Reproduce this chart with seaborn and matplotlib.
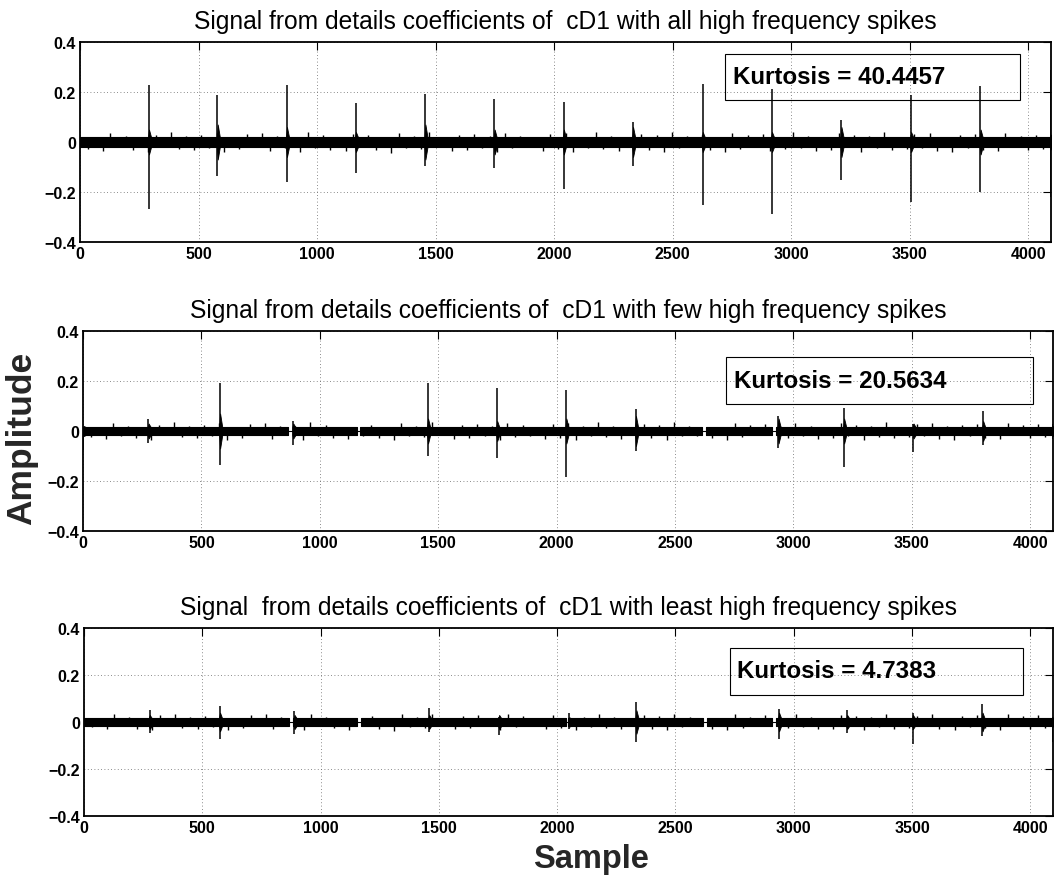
import numpy as np
import matplotlib
matplotlib.use("Agg")
import matplotlib.pyplot as plt
from matplotlib.patches import Rectangle
import seaborn as sns

# ---------------- data ----------------
titles = [
    "Signal from details coefficients of  cD1 with all high frequency spikes",
    "Signal from details coefficients of  cD1 with few high frequency spikes",
    "Signal  from details coefficients of  cD1 with least high frequency spikes",
]
kurtosis_labels = ["Kurtosis = 40.4457", "Kurtosis = 20.5634", "Kurtosis = 4.7383"]

# dense noise: half-thickness of the solid core of the trace
core_amp = [0.019, 0.016, 0.016]

# noise excursions (thousandths): upward ones read every 64 samples from 0,
# downward ones read every 64 samples from 32
env_x = list(range(0, 4097, 64))
p1_hi = [32,20,38,25,19,30,41,23,28,35, 19,31,37,24,22,42,27,18,33,30, 21,36,25,40,19,29,32,23,38,26,
         18,31,35,22,40,25,20,34,28,41, 23,30,19,37,27,32,21,39,25,18, 35,29,24,42,20,31,36,22,27,33,
         19,38,26,30,24]
p1_lo = [26,36,21,31,41,19,27,33,23,38, 29,18,35,24,40,22,30,37,20,32, 42,24,28,19,36,31,22,39,25,20,
         34,29,41,23,27,36,18,31,38,24, 21,33,40,26,19,37,29,23,35,31, 20,39,25,32,28,22,35,41,24,30,
         37,19,32,27,34]
p2_hi = [28,18,34,22,17,26,36,20,25,31, 17,28,33,21,19,37,24,16,29,26, 18,32,22,35,17,25,28,20,34,23,
         16,27,31,19,35,22,18,30,25,36, 20,26,17,33,24,28,19,34,22,16, 31,25,21,37,18,27,32,19,24,29,
         17,34,23,27,21]
p2_lo = [23,32,19,27,36,17,24,29,20,34, 26,16,31,21,35,19,27,33,18,28, 37,21,25,17,32,27,19,34,22,18,
         30,26,36,20,24,32,16,28,34,21, 19,29,35,23,17,33,26,20,31,27, 18,35,22,28,25,19,31,36,21,26,
         33,17,28,24,30]
p3_hi = [27,19,33,23,17,28,35,20,24,31, 18,29,32,21,19,36,23,17,30,27, 19,33,21,35,17,26,29,19,32,24,
         17,28,30,20,36,22,18,29,24,35, 20,27,17,32,23,29,19,33,21,17, 31,26,21,36,18,27,33,19,25,30,
         17,32,24,28,21]
p3_lo = [23,31,19,28,35,17,25,30,20,33, 26,17,30,22,36,19,25,32,18,29, 37,21,25,17,30,27,19,33,23,18,
         29,25,36,20,25,31,16,28,33,22, 19,30,35,24,17,32,26,20,29,28, 18,34,23,29,25,19,30,36,21,27,
         32,17,28,25,30]

# flat (near-zero) stretches of the signal: (start, end) samples
p1_gaps = []
p2_gaps = [(865, 885), (1155, 1170), (2615, 2632), (2908, 2925)]
p3_gaps = [(865, 885), (1155, 1170), (2037, 2046), (2615, 2632), (2908, 2925)]

# spikes: sample position, max, min, ringing amplitude
p1_pos = [290, 580, 872, 1163, 1456, 1748, 2040, 2332, 2626, 2918, 3211, 3505, 3798, 4094]
p1_top = [0.229, 0.19, 0.227, 0.156, 0.192, 0.174, 0.16, 0.08, 0.234, 0.211, 0.09, 0.19, 0.224, 0.29]
p1_bot = [-0.269, -0.135, -0.161, -0.124, -0.097, -0.105, -0.187, -0.096, -0.253, -0.287, -0.152, -0.239, -0.2, -0.22]
p1_ring = [0.05, 0.07, 0.06, 0.04, 0.07, 0.05, 0.05, 0.06, 0.04, 0.04, 0.06, 0.04, 0.05, 0.03]

p2_pos = [2, 276, 578, 887, 1456, 1748, 2040, 2334, 2936, 3213, 3506, 3800, 4094]
p2_top = [0.0, 0.047, 0.192, 0.04, 0.193, 0.173, 0.163, 0.089, 0.059, 0.093, 0.03, 0.08, 0.03]
p2_bot = [-0.077, -0.047, -0.137, -0.055, -0.1, -0.108, -0.184, -0.08, -0.068, -0.144, -0.084, -0.055, -0.03]
p2_ring = [0.02, 0.03, 0.07, 0.03, 0.05, 0.04, 0.05, 0.06, 0.05, 0.05, 0.03, 0.04, 0.02]

p3_pos = [277, 574, 889, 1458, 1754, 2050, 2334, 2937, 3225, 3503, 3797, 4094]
p3_top = [0.049, 0.069, 0.045, 0.059, 0.02, 0.04, 0.084, 0.055, 0.05, 0.04, 0.077, 0.02]
p3_bot = [-0.046, -0.074, -0.05, -0.042, -0.057, -0.03, -0.087, -0.072, -0.046, -0.093, -0.061, -0.087]
p3_ring = [0.03, 0.04, 0.03, 0.03, 0.03, 0.02, 0.05, 0.04, 0.03, 0.03, 0.04, 0.02]

x_ticks = [0, 500, 1000, 1500, 2000, 2500, 3000, 3500, 4000]
y_ticks = [-0.4, -0.2, 0, 0.2, 0.4]
y_tick_labels = ["\u22120.4", "\u22120.2", "0", "0.2", "0.4"]
n_samples = 4096

panels = [
    dict(hi=p1_hi, lo=p1_lo, gaps=p1_gaps, pos=p1_pos, top=p1_top, bot=p1_bot, ring=p1_ring),
    dict(hi=p2_hi, lo=p2_lo, gaps=p2_gaps, pos=p2_pos, top=p2_top, bot=p2_bot, ring=p2_ring),
    dict(hi=p3_hi, lo=p3_lo, gaps=p3_gaps, pos=p3_pos, top=p3_top, bot=p3_bot, ring=p3_ring),
]

# ---------------- layout / style ----------------
W, H = 1055, 879
axes_px = [(80, 43, 1051, 243), (83, 332, 1053, 532), (84, 629, 1053, 817)]
box_px = [(725, 55, 1020, 101), (726, 358, 1033, 405), (730, 649, 1023, 696)]
text_px = [(733, 78), (734, 381), (737, 672)]

sns.set_theme(style="white")
plt.rcParams["font.family"] = ["Liberation Sans", "DejaVu Sans"]
plt.rcParams["axes.unicode_minus"] = True

fig = plt.figure(figsize=(W / 100, H / 100), dpi=100)
fig.patch.set_facecolor("white")


def in_segments(xv, bounds):
    ok = np.zeros(len(xv), dtype=bool)
    for a, bnd in zip(bounds[0::2], bounds[1::2]):
        ok |= (xv > a + 3) & (xv < bnd - 3)
    return ok


for i, (pan, (l, t, r, b)) in enumerate(zip(panels, axes_px)):
    ax = fig.add_axes([l / W, 1 - b / H, (r - l) / W, (b - t) / H])
    ax.set_facecolor("white")
    ax.set_xlim(0, n_samples)
    ax.set_ylim(-0.4, 0.4)

    n = min(len(env_x), len(pan["hi"]), len(pan["lo"]))
    x_up = np.array(env_x[:n], dtype=float)
    x_dn = x_up + 32
    hi = np.array(pan["hi"][:n]) / 1000.0
    lo = -np.array(pan["lo"][:n]) / 1000.0
    c = core_amp[i]

    bounds = [0] + [v for g in pan["gaps"] for v in g] + [n_samples]
    for a, bnd in zip(bounds[0::2], bounds[1::2]):
        ax.fill_between([a, bnd], [-c, -c], [c, c], color="black", lw=0.8, zorder=3)
    mu = in_segments(x_up, bounds)
    md = in_segments(x_dn, bounds)
    ax.vlines(x_up[mu], 0, hi[mu], color="black", lw=1.0, zorder=3)
    ax.vlines(x_dn[md], lo[md], 0, color="black", lw=1.0, zorder=3)
    for g0, g1 in pan["gaps"]:
        sns.lineplot(x=[g0, g1], y=[0, 0], ax=ax, color="black", lw=0.8, zorder=3)

    # ringing around spikes
    for p, rg in zip(pan["pos"], pan["ring"]):
        ax.fill_between([p - 3, p + 1, p + 10], [-c, -rg, -c], [c, rg, c],
                        color="black", lw=0.6, zorder=3)
    # spikes
    ax.vlines(pan["pos"], pan["bot"], pan["top"], color="black", lw=1.1, zorder=4)

    # axes cosmetics (MATLAB-like)
    ax.set_xticks(x_ticks)
    ax.set_xticklabels([str(v) for v in x_ticks], fontweight="bold", fontsize=11.5)
    ax.set_yticks(y_ticks)
    ax.set_yticklabels(y_tick_labels, fontweight="bold", fontsize=11.5)
    ax.tick_params(direction="in", length=6, width=0.8, top=True, right=True,
                   pad=3, colors="black")
    ax.grid(True, linestyle=(0, (1, 3)), color="0.4", lw=0.6)
    for s in ax.spines.values():
        s.set_visible(True)
        s.set_color("black")
        s.set_linewidth(1.3)
    ax.set_title(titles[i], fontsize=17.7, pad=10, color="black")

    # kurtosis box
    bx0, by0, bx1, by1 = box_px[i]
    ax.add_patch(Rectangle(((bx0 - l) / (r - l), (b - by1) / (b - t)),
                           (bx1 - bx0) / (r - l), (by1 - by0) / (b - t),
                           transform=ax.transAxes, fill=False, edgecolor="black",
                           lw=0.8, zorder=6))
    tx, ty = text_px[i]
    ax.text((tx - l) / (r - l), (b - ty) / (b - t), kurtosis_labels[i],
            transform=ax.transAxes, fontsize=17.4, fontweight="bold",
            ha="left", va="center", zorder=7, color="black")

fig.text(22 / W, 1 - 438 / H, "Amplitude", rotation=90, fontsize=25.5,
         fontweight="bold", ha="center", va="center")
fig.text(591 / W, 1 - 860 / H, "Sample", fontsize=23.5, fontweight="bold",
         ha="center", va="center")

fig.savefig("out.png", dpi=100, facecolor="white")
